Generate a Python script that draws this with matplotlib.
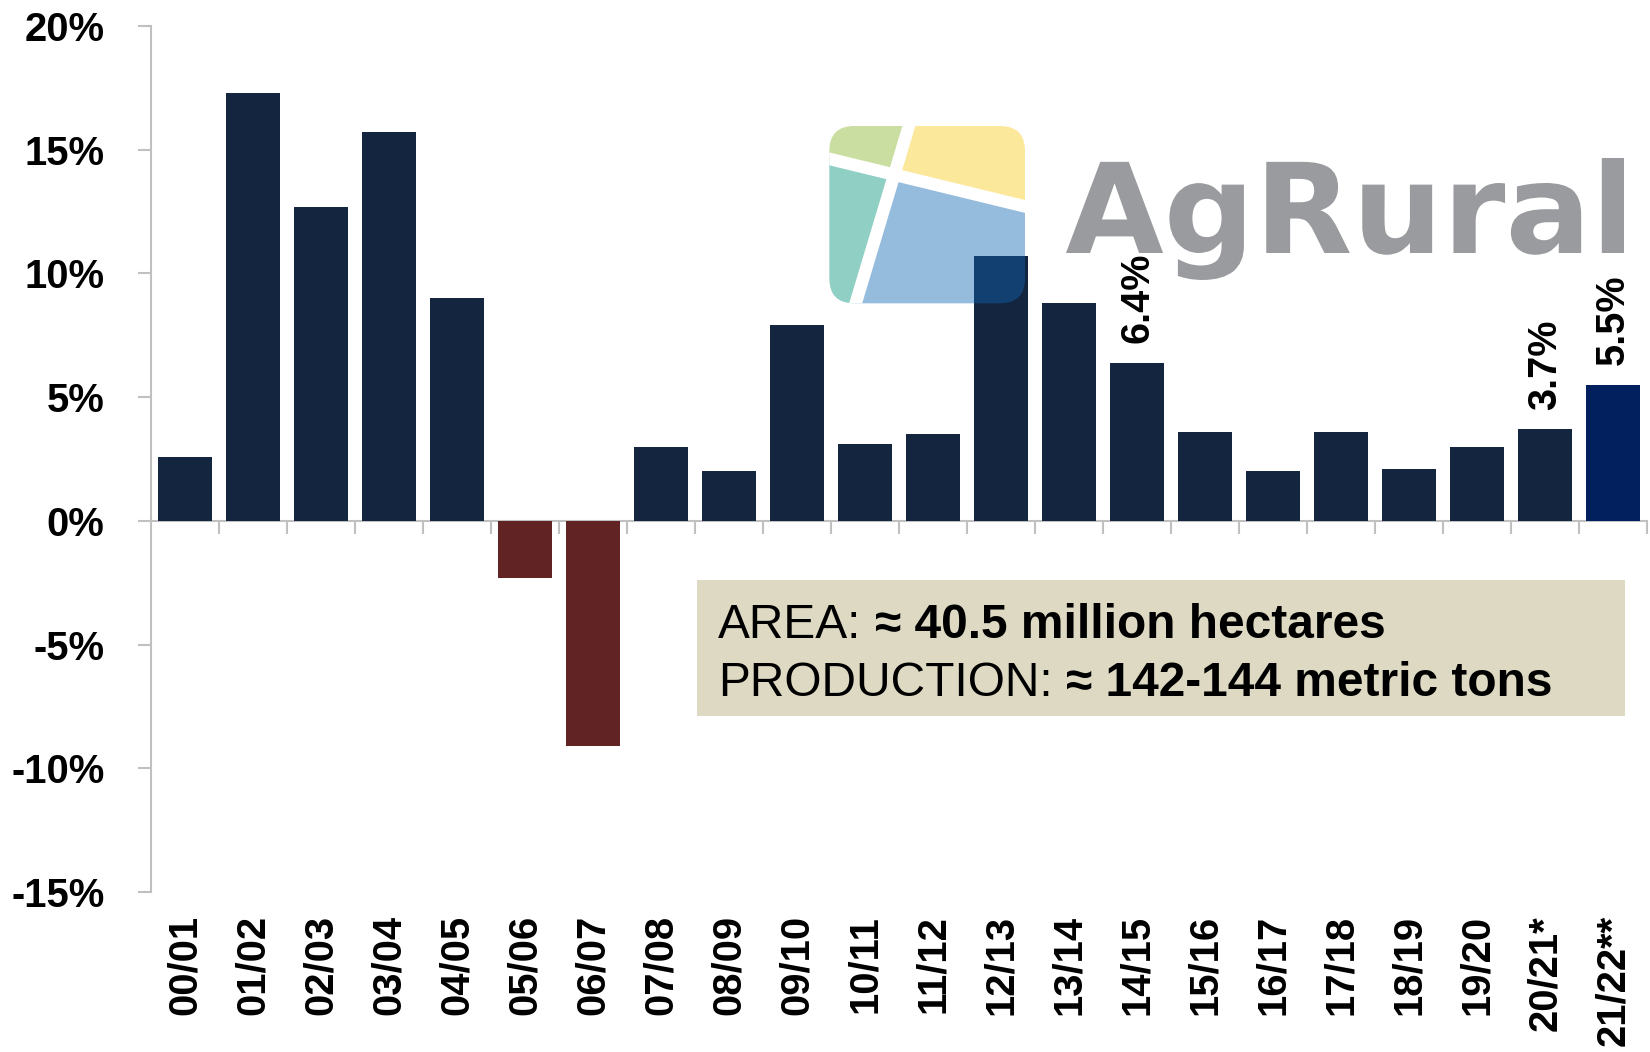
import numpy as np
import matplotlib
matplotlib.use("Agg")
import matplotlib.pyplot as plt
from matplotlib.patches import Polygon, FancyBboxPatch, PathPatch, Rectangle
from matplotlib.textpath import TextPath
from matplotlib.font_manager import FontProperties
from matplotlib.transforms import Affine2D
from matplotlib.text import Annotation

# ---------------- data ----------------
seasons = ["00/01", "01/02", "02/03", "03/04", "04/05", "05/06", "06/07", "07/08",
           "08/09", "09/10", "10/11", "11/12", "12/13", "13/14", "14/15", "15/16",
           "16/17", "17/18", "18/19", "19/20", "20/21*", "21/22**"]
growth = [2.6, 17.3, 12.7, 15.7, 9.0, -2.3, -9.1, 3.0, 2.0, 7.9, 3.1, 3.5,
          10.7, 8.8, 6.4, 3.6, 2.0, 3.6, 2.1, 3.0, 3.7, 5.5]
labeled = ["14/15", "20/21*", "21/22**"]
highlight = "21/22**"
yticks = [-15, -10, -5, 0, 5, 10, 15, 20]
ytick_labels = ["-15%", "-10%", "-5%", "0%", "5%", "10%", "15%", "20%"]
box_lines = [("AREA:", "\u2248 40.5 million hectares"),
             ("PRODUCTION:", "\u2248 142-144 metric tons")]
brand = "AgRural"

# ---------------- style ----------------
NAVY = "#14253F"
HL = "#03205E"
NEG = "#612324"
GRAY = "#C0C0C0"
BOX = "#DDD9C3"
BRAND_GRAY = "#9A9B9E"

W, H = 1650, 1052
plt.rcParams['font.family'] = ['Liberation Sans', 'DejaVu Sans']
fig = plt.figure(figsize=(W / 100, H / 100), dpi=100)
fig.patch.set_facecolor("white")

ax = fig.add_axes([151 / W, 1 - 892 / H, 1496 / W, 866 / H])
x = np.arange(len(seasons))
colors = []
for s, v in zip(seasons, growth):
    if v < 0:
        colors.append(NEG)
    elif s == highlight:
        colors.append(HL)
    else:
        colors.append(NAVY)
ax.bar(x, growth, width=0.79, color=colors, zorder=2)
ax.set_xlim(-0.5, len(seasons) - 0.5)
ax.set_ylim(-15, 20)
for sp in ["top", "right", "bottom"]:
    ax.spines[sp].set_visible(False)
ax.spines["left"].set_color(GRAY)
ax.spines["left"].set_linewidth(1.5)

ax.set_yticks(yticks, labels=ytick_labels)
ax.tick_params(axis="y", direction="out", length=9.4, width=1.5, color=GRAY,
               pad=24, labelsize=28.8)
for lab in ax.get_yticklabels():
    lab.set_fontweight("bold")

ax.set_xticks(x, labels=seasons, rotation=90, fontweight="bold", fontsize=28.8)
ax.tick_params(axis="x", length=0, pad=16.5)

# zero line with category boundary ticks
sec = ax.secondary_xaxis((0 - (-15)) / (20 - (-15)))
sec.set_xticks(np.arange(0.5, len(seasons), 1.0), labels=[])
sec.xaxis.set_ticks_position("bottom")
sec.tick_params(axis="x", direction="out", length=9.4, width=1.5, color=GRAY)
for sp in sec.spines.values():
    sp.set_color(GRAY)
    sp.set_linewidth(1.5)

# value labels
for i, (s, v) in enumerate(zip(seasons, growth)):
    if s in labeled:
        ax.annotate(f"{v:.1f}%", (i, v), xytext=(0, 14), textcoords="offset points",
                    rotation=90, ha="center", va="bottom", fontsize=28.5,
                    fontweight="bold", color="black", zorder=4)

# ---------------- info box ----------------
fig.add_artist(Rectangle((697 / W, 1 - 716 / H), 928 / W, 136 / H,
                         transform=fig.transFigure, facecolor=BOX,
                         edgecolor="none", zorder=2))
baselines = [638, 696]
for (reg, bold), yb in zip(box_lines, baselines):
    t1 = fig.text(718 / W, 1 - yb / H, reg, ha="left", va="baseline",
                  fontsize=34.5, color="black", zorder=3)
    a = Annotation(bold, xy=(1, 0), xycoords=t1, xytext=(9.5, 0),
                   textcoords="offset points", ha="left", va="bottom",
                   fontsize=34.5, fontweight="bold", color="black")
    a.set_zorder(3)
    fig.add_artist(a)

# ---------------- logo ----------------
lax = fig.add_axes([820 / W, 1 - 320 / H, 220 / W, 200 / H], zorder=5)
lax.set_xlim(0, 660)
lax.set_ylim(600, 0)
lax.axis("off")
lax.patch.set_alpha(0)
rr = FancyBboxPatch((28, 18), 587, 532, boxstyle="round,pad=0,rounding_size=75",
                    facecolor="none", edgecolor="none")
lax.add_patch(rr)
P = (222.3, 165.6)
quads = [
    ([(-20, -20), (278, -20), P, (-20, 105)], (133, 182, 39)),
    ([(278, -20), (700, -20), (700, 280), P], (250, 203, 25)),
    ([(-20, 105), P, (86, 620), (-20, 620)], (0, 146, 121)),
    ([P, (700, 280), (700, 620), (86, 620)], (14, 100, 178)),
]
for pts, c in quads:
    poly = Polygon(pts, closed=True, facecolor=np.array(c) / 255, alpha=0.44,
                   edgecolor="none")
    lax.add_patch(poly)
    poly.set_clip_path(rr)
for (x0, y0), (x1, y1) in [((278, -20), (86, 620)), ((-20, 105), (700, 280))]:
    ln, = lax.plot([x0, x1], [y0, y1], color="white", lw=9, solid_capstyle="butt")
    ln.set_clip_path(rr)

tp = TextPath((0, 0), brand, size=100,
              prop=FontProperties(family="DejaVu Sans", weight="bold"))
bb = tp.get_extents()
left_px, right_px, base_px, top_px = 1066, 1624, 1052 - 253, 1052 - 158
sx = (right_px - left_px) / (bb.x1 - bb.x0)
sy = (top_px - base_px) / bb.y1
tr = (Affine2D().translate(-bb.x0, 0).scale(sx, sy).translate(left_px, base_px)
      .scale(1 / W, 1 / H) + fig.transFigure)
fig.add_artist(PathPatch(tp, transform=tr, facecolor=BRAND_GRAY, lw=0, zorder=4))

fig.savefig("out.png", dpi=100)
